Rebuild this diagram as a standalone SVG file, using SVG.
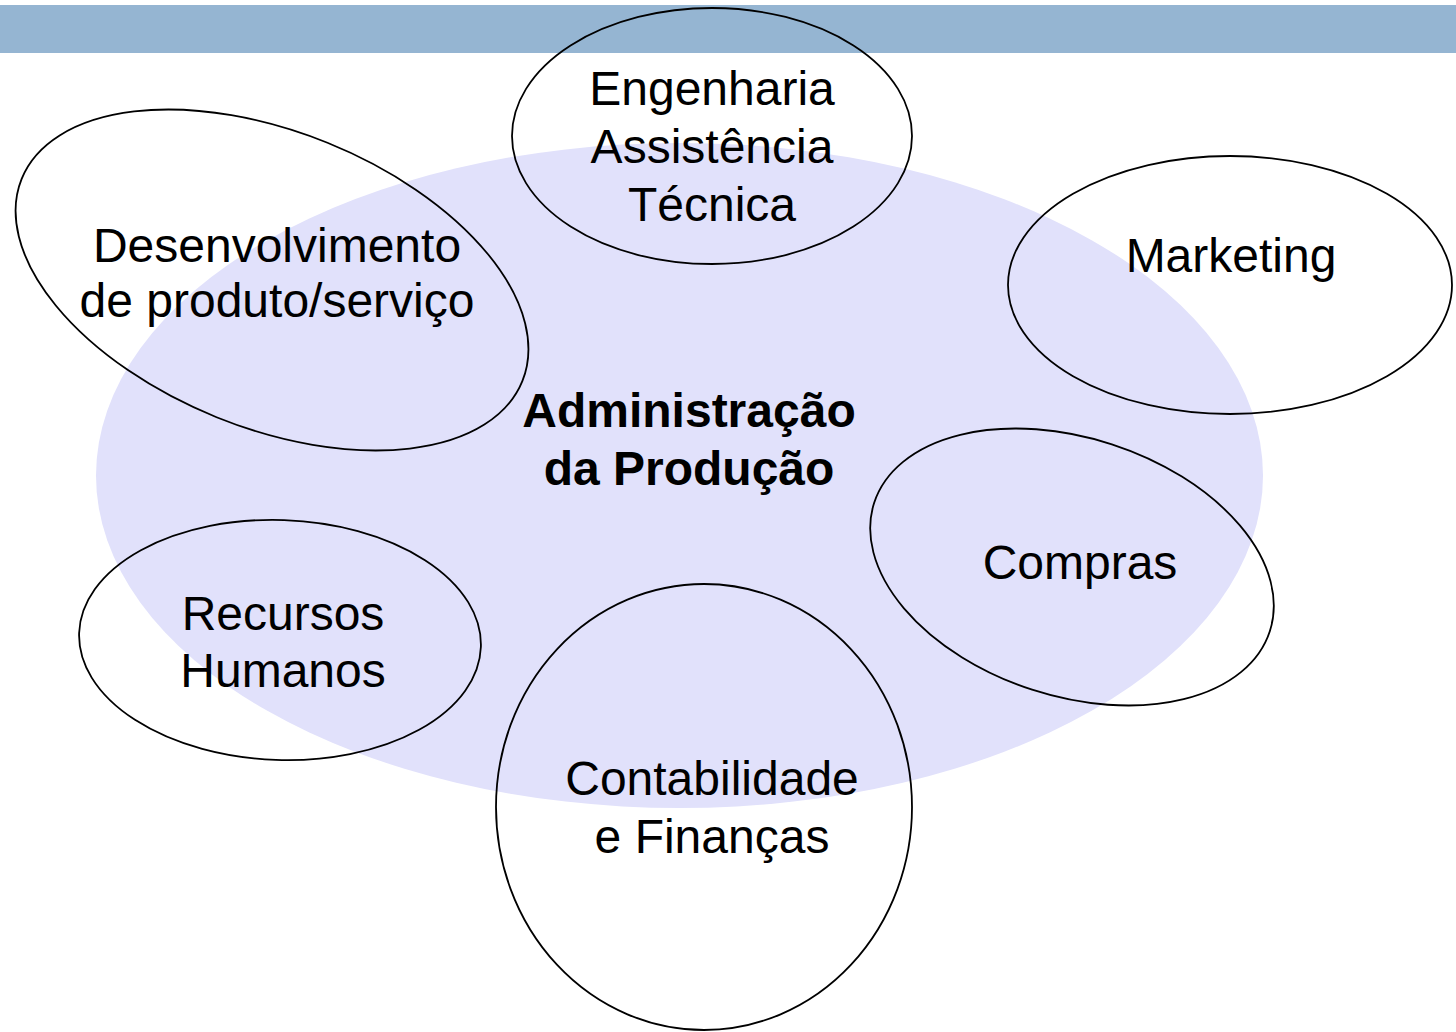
<svg xmlns="http://www.w3.org/2000/svg" width="1456" height="1032" viewBox="0 0 1456 1032">
<style>
.t{font-family:"Liberation Sans",Arial,sans-serif;font-size:48px;fill:#000;text-anchor:middle}
.b{font-weight:bold}
.o{fill:none;stroke:#000;stroke-width:1.8}
</style>
<rect x="0" y="0" width="1456" height="1032" fill="#ffffff"/>
<rect id="topbar" x="0" y="5" width="1456" height="48" fill="#95B5D2"/>
<g id="center">
<ellipse cx="679.5" cy="475.5" rx="583.5" ry="332.5" fill="#E1E1FB"/>
<text class="t b" x="689" y="427">Administração</text>
<text class="t b" x="689" y="485">da Produção</text>
</g>
<g id="connectors"></g>
<g id="engenharia">
<ellipse class="o" cx="712" cy="136" rx="200" ry="128"/>
<text class="t" x="712" y="105">Engenharia</text>
<text class="t" x="712" y="163">Assistência</text>
<text class="t" x="712" y="221">Técnica</text>
</g>
<g id="desenvolvimento">
<ellipse class="o" cx="272" cy="280" rx="270" ry="148" transform="rotate(22 272 280)"/>
<text class="t" x="277" y="262">Desenvolvimento</text>
<text class="t" x="277" y="317">de produto/serviço</text>
</g>
<g id="marketing">
<ellipse class="o" cx="1230" cy="285" rx="222" ry="129"/>
<text class="t" x="1231" y="272">Marketing</text>
</g>
<g id="compras">
<ellipse class="o" cx="1072" cy="567" rx="208" ry="129" transform="rotate(18 1072 567)"/>
<text class="t" x="1080" y="579">Compras</text>
</g>
<g id="recursos">
<ellipse class="o" cx="280" cy="640" rx="201" ry="120" transform="rotate(2 280 640)"/>
<text class="t" x="283" y="630">Recursos</text>
<text class="t" x="283" y="687">Humanos</text>
</g>
<g id="contabilidade">
<ellipse class="o" cx="704" cy="807" rx="208" ry="223"/>
<text class="t" x="712" y="795">Contabilidade</text>
<text class="t" x="712" y="853">e Finanças</text>
</g>
</svg>
